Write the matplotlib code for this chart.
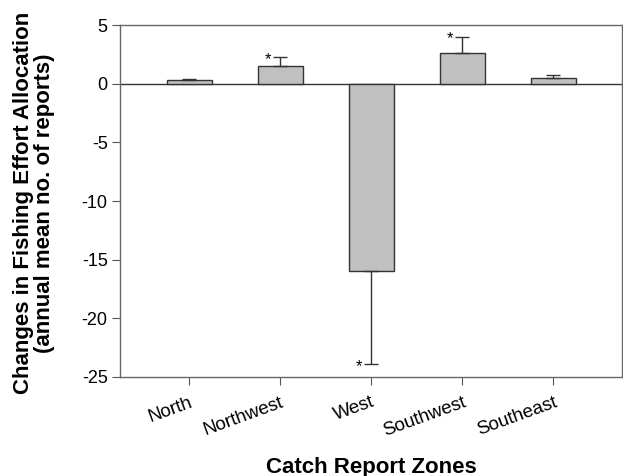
import numpy as np
import matplotlib.pyplot as plt

plt.rcParams['font.family'] = ['Liberation Sans', 'DejaVu Sans']
plt.rcParams['axes.unicode_minus'] = False

zones = ['North', 'Northwest', 'West', 'Southwest', 'Southeast']
change = [0.3, 1.5, -16.0, 2.65, 0.5]
err = [0.08, 0.75, 7.9, 1.35, 0.28]
signif = [False, True, True, True, False]

fig = plt.figure(figsize=(6.23, 4.76), dpi=100)
ax = fig.add_axes([0.193, 0.208, 0.805, 0.739])

x = np.arange(len(zones))
ax.bar(x, change, width=0.5, color='#c0c0c0', edgecolor='#333333', linewidth=1, zorder=2)

# one-sided error bars (away from zero)
lower = [e if v < 0 else 0 for v, e in zip(change, err)]
upper = [e if v >= 0 else 0 for v, e in zip(change, err)]
ax.errorbar(x, change, yerr=[lower, upper], fmt='none', ecolor='#333333',
            elinewidth=1, capsize=5, capthick=1, zorder=3)

for i in range(len(zones)):
    if signif[i]:
        if change[i] >= 0:
            y = change[i] + err[i] - 0.15
        else:
            y = change[i] - err[i] - 0.2
        ax.text(x[i] - 0.14, y, '*', ha='center', va='center', fontsize=12)

ax.axhline(0, color='#333333', linewidth=1, zorder=1)
ax.set_xlim(-0.76, 4.75)
ax.set_ylim(-25, 5)
ax.set_yticks([5, 0, -5, -10, -15, -20, -25])
ax.set_xticks(x)
ax.set_xticklabels(zones, rotation=20, ha='right', rotation_mode='anchor', fontsize=13.5)
ax.tick_params(axis='y', labelsize=13, direction='out', length=6, pad=3, color='#555555')
ax.tick_params(axis='x', direction='out', length=6, pad=6, color='#555555')
for s in ax.spines.values():
    s.set_color('#666666')
    s.set_linewidth(1)

ax.set_xlabel('Catch Report Zones', fontsize=16, fontweight='bold', va='center')
ax.xaxis.set_label_coords(0.5, -0.256)
ax.set_ylabel('Changes in Fishing Effort Allocation\n(annual mean no. of reports)',
              fontsize=16, fontweight='bold', va='center', linespacing=1.0)
ax.yaxis.set_label_coords(-0.172, 0.495)

fig.savefig('out.png', dpi=100)
